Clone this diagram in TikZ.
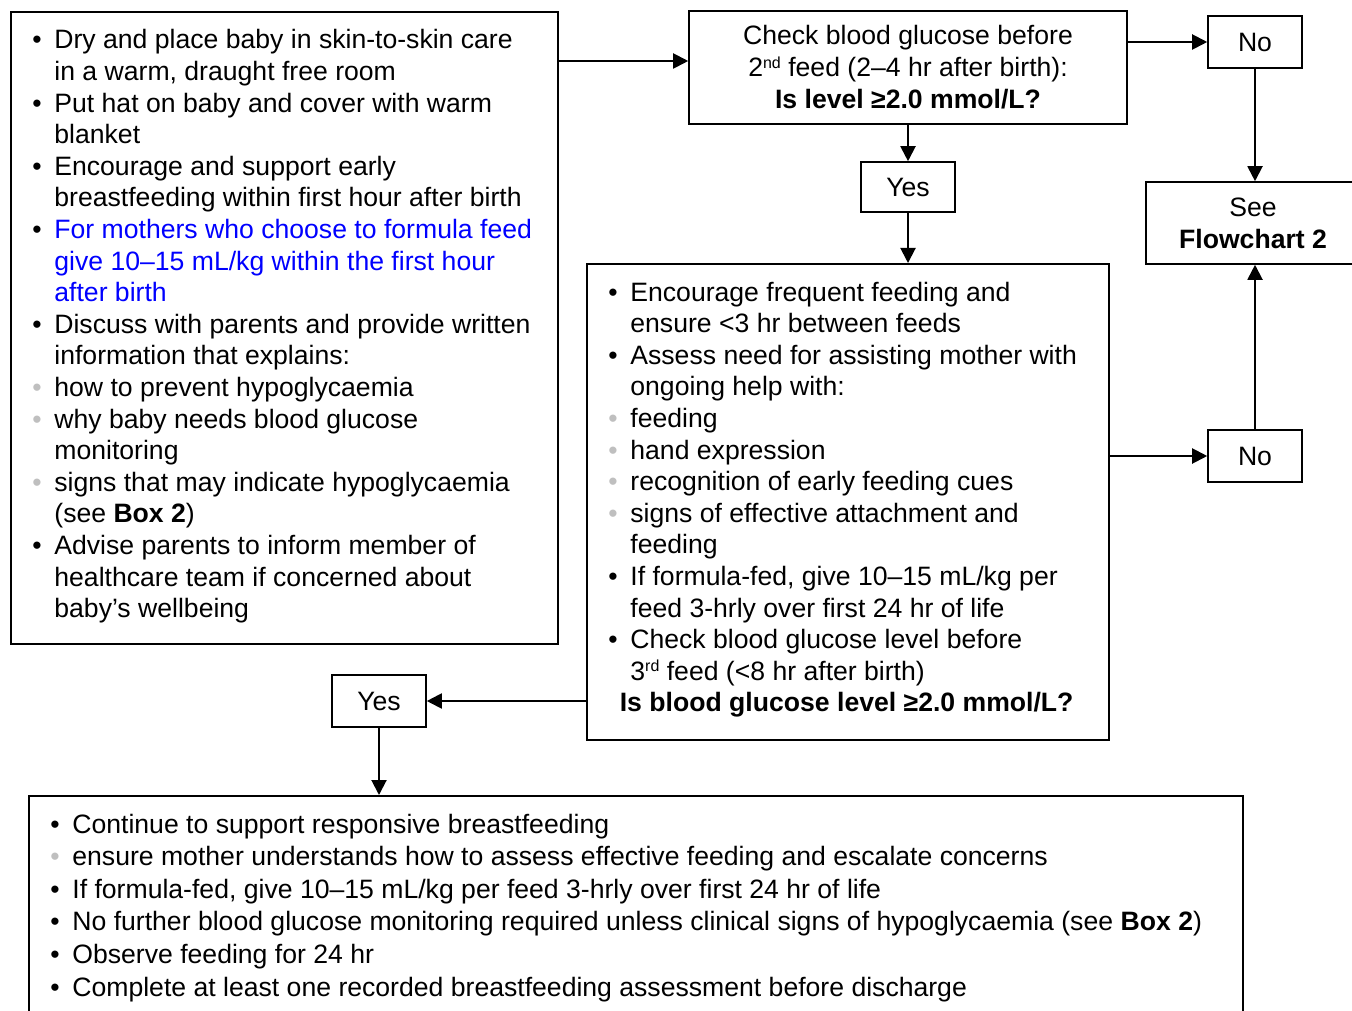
\documentclass[tikz,border=0pt]{standalone}
\usepackage{fontspec}
\setmainfont{Liberation Sans}
\usepackage{tikz}
\usetikzlibrary{arrows.meta}
\usetikzlibrary{calc,positioning}

\definecolor{bulletgrey}{RGB}{191,191,191}
\newcommand{\blk}{\makebox[11pt][l]{\textbullet}}
\newcommand{\gry}{\makebox[11pt][l]{\textcolor{bulletgrey}{\textbullet}}}
\newcommand{\cnt}{\hspace*{11pt}}
\newcommand{\ordsup}[1]{\smash{\raisebox{4.4pt}{\fontsize{8pt}{8pt}\selectfont #1}}}

\begin{document}
\begin{tikzpicture}[x=0.5pt, y=-0.5pt,
	frame/.style={draw, line width=0.8pt, inner sep=0pt},
	slot/.style={draw, line width=0.8pt, minimum width=47pt, minimum height=26pt, font=\fontsize{13.3pt}{16pt}\selectfont},
	list/.style={anchor=base west, inner sep=0pt, font=\fontsize{13.3pt}{15.8pt}\selectfont},
	flow/.style={-{Triangle[length=7.5pt, width=7.5pt]}, line width=1pt}]
	\useasboundingbox (0,0) rectangle (1352,1010);

	\node[frame, anchor=north west, minimum width=273.5pt, minimum height=316pt] (advice) at (10,11) {};
	\node[list] (advicetext) at (32,49) {\begin{tabular}[t]{@{}l@{}}
		\blk Dry and place baby in skin-to-skin care\\
		\cnt in a warm, draught free room\\
		\blk Put hat on baby and cover with warm\\
		\cnt blanket\\
		\blk Encourage and support early\\
		\cnt breastfeeding within first hour after birth\\
		\blk\textcolor{blue}{For mothers who choose to formula feed}\\
		\cnt\textcolor{blue}{give 10--15 mL/kg within the first hour}\\
		\cnt\textcolor{blue}{after birth}\\
		\blk Discuss with parents and provide written\\
		\cnt information that explains:\\
		\gry how to prevent hypoglycaemia\\
		\gry why baby needs blood glucose\\
		\cnt monitoring\\
		\gry signs that may indicate hypoglycaemia\\
		\cnt (see \textbf{Box 2})\\
		\blk Advise parents to inform member of\\
		\cnt healthcare team if concerned about\\
		\cnt baby’s wellbeing
	\end{tabular}};

	\node[slot, minimum width=219pt, minimum height=56.5pt, align=center] (check) at (908,67.5) {Check blood glucose before\\2\ordsup{nd} feed (2--4 hr after birth):\\\textbf{Is level ≥2.0 mmol/L?}};
	\node[slot] (nofirst) at (1255,42) {No};
	\node[slot, minimum width=107pt, minimum height=41pt, align=center] (see) at (1253,223) {See\\\textbf{Flowchart 2}};
	\node[slot, minimum height=25pt] (yesfirst) at (908,187) {Yes};

	\node[frame, anchor=north west, minimum width=261pt, minimum height=238pt] (care) at (586,263) {};
	\node[list] (caretext) at (608,301) {\begin{tabular}[t]{@{}l@{}}
		\blk Encourage frequent feeding and\\
		\cnt ensure <3 hr between feeds\\
		\blk Assess need for assisting mother with\\
		\cnt ongoing help with:\\
		\gry feeding\\
		\gry hand expression\\
		\gry recognition of early feeding cues\\
		\gry signs of effective attachment and\\
		\cnt feeding\\
		\blk If formula-fed, give 10--15 mL/kg per\\
		\cnt feed 3-hrly over first 24 hr of life\\
		\blk Check blood glucose level before\\
		\cnt 3\ordsup{rd} feed (<8 hr after birth)\\
		\multicolumn{1}{@{}c@{}}{\hspace{4pt}\textbf{Is blood glucose level ≥2.0 mmol/L?}}
	\end{tabular}};
	\node[slot] (nosecond) at (1255,456) {No};
	\node[slot] (yessecond) at (379,701) {Yes};

	\node[frame, anchor=north west, minimum width=607pt, minimum height=125pt] (routine) at (28,795) {};
	\node[list, font=\fontsize{13.3pt}{16.3pt}\selectfont] (routinetext) at (50,833) {\begin{tabular}[t]{@{}l@{}}
		\blk Continue to support responsive breastfeeding\\
		\gry ensure mother understands how to assess effective feeding and escalate concerns\\
		\blk If formula-fed, give 10--15 mL/kg per feed 3-hrly over first 24 hr of life\\
		\blk No further blood glucose monitoring required unless clinical signs of hypoglycaemia (see \textbf{Box 2})\\
		\blk Observe feeding for 24 hr\\
		\blk Complete at least one recorded breastfeeding assessment before discharge
	\end{tabular}};

	\coordinate (checkin) at ([yshift=3.25pt]check.west);
	\draw[flow] (advice.east |- checkin) -- (checkin);
	\draw[flow] (check.east |- nofirst.west) -- (nofirst.west);
	\draw[flow] (nofirst.south) -- (nofirst.south |- see.north);
	\draw[flow] (check.south) -- (yesfirst.north);
	\draw[flow] (yesfirst.south) -- (yesfirst.south |- care.north);
	\draw[flow] (care.east |- nosecond.west) -- (nosecond.west);
	\draw[flow] (nosecond.north) -- (nosecond.north |- see.south);
	\draw[flow] (care.west |- yessecond.east) -- (yessecond.east);
	\draw[flow] (yessecond.south) -- (yessecond.south |- routine.north);
\end{tikzpicture}
\end{document}
